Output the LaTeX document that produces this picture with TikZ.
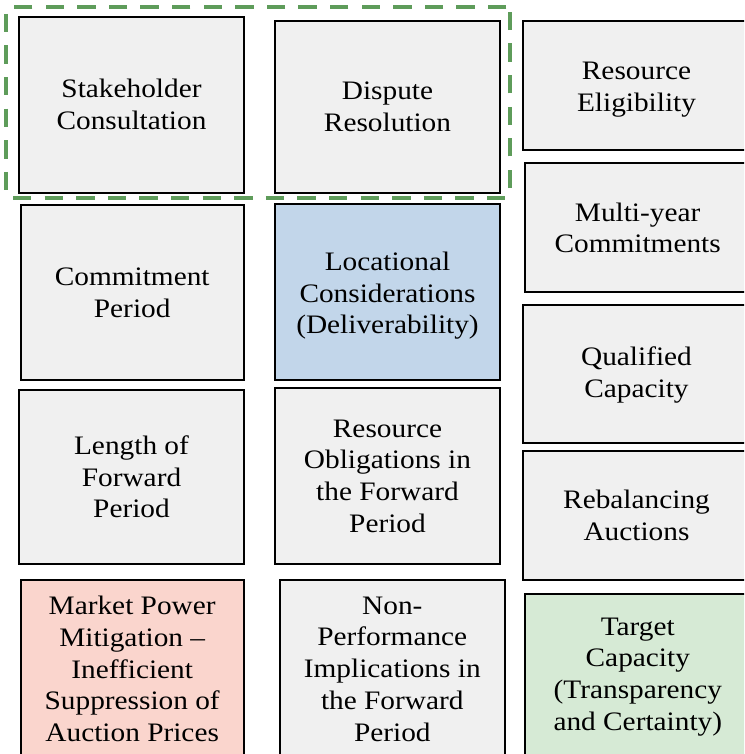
\documentclass[tikz,border=0pt]{standalone}
\usepackage{fontspec}
\setmainfont{Liberation Serif}[FakeStretch=1.1]
\usetikzlibrary{fit}
\definecolor{boxgray}{HTML}{F0F0F0}
\definecolor{boxblue}{HTML}{C2D6EA}
\definecolor{boxpink}{HTML}{FAD5CD}
\definecolor{boxgreen}{HTML}{D6EAD5}
\definecolor{dashgreen}{HTML}{5E9C5A}
\begin{document}
\begin{tikzpicture}[x=0.75pt,y=-0.75pt,
  box/.style={draw=black, line width=1.4pt, inner sep=0pt, fill=boxgray},
  txt/.style={align=center, inner sep=0pt, font=\fontsize{20}{23.8}\selectfont},
  groupbox/.style={draw=dashgreen, line width=3pt, dash pattern=on 13.7pt off 10pt,
    rounded corners=3pt, inner sep=0pt}]
\useasboundingbox (0,0) rectangle (744,754);
\clip (0,0) rectangle (744,754);
\fill[white] (0,0) rectangle (744,754);
% column 1
\node[box, fit={(19.3,16.7) (243.7,192.7)}] (stake) {};
\node[txt] (staketxt) at (stake.center) {Stakeholder\\Consultation};
\node[box, fit={(20.7,205.3) (243.7,380.3)}] (commit) {};
\node[txt] (committxt) at (commit.center) {Commitment\\Period};
\node[box, fit={(19.3,389.7) (243.7,564.3)}] (length) {};
\node[txt] (lengthtxt) at (length.center) {Length of\\Forward\\Period};
\node[box, fill=boxpink, fit={(20.7,579.7) (243.7,775)}] (market) {};
\node[txt] (markettxt) at (132.2,669) {Market Power\\Mitigation --\\Inefficient\\Suppression of\\Auction Prices};
% column 2
\node[box, fit={(275.3,21) (499.7,192.7)}] (dispute) {};
\node[txt] (disputetxt) at (dispute.center) {Dispute\\Resolution};
\node[box, fill=boxblue, fit={(275.3,203.7) (499.7,380)}] (locat) {};
\node[txt] (locattxt) at ([yshift=-3pt]locat.center) {Locational\\Considerations\\(Deliverability)};
\node[box, fit={(275.3,387.7) (499.7,564.3)}] (obl) {};
\node[txt] (obltxt) at (obl.center) {Resource\\Obligations in\\the Forward\\Period};
\node[box, fit={(280,579.7) (504.7,775)}] (nonperf) {};
\node[txt] (nonperftxt) at (392.3,669) {Non-\\Performance\\Implications in\\the Forward\\Period};
% column 3
\node[box, fit={(523,21) (750,150.3)}] (elig) {};
\node[txt] (eligtxt) at ([yshift=-3pt]elig.center) {Resource\\Eligibility};
\node[box, fit={(525.3,163.3) (750,292.3)}] (multi) {};
\node[txt] (multitxt) at (multi.center) {Multi-year\\Commitments};
\node[box, fit={(523,305.3) (750,442.7)}] (qual) {};
\node[txt] (qualtxt) at ([yshift=-1pt]qual.center) {Qualified\\Capacity};
\node[box, fit={(523,451) (750,579.7)}] (rebal) {};
\node[txt] (rebaltxt) at (rebal.center) {Rebalancing\\Auctions};
\node[box, fill=boxgreen, fit={(525.3,593.7) (750,775)}] (target) {};
\node[txt] (targettxt) at (637.8,677) {Target\\Capacity\\(Transparency\\and Certainty)};
% dashed group
\node[groupbox, fit={(6,6.7) (510.3,198.3)}] (group) {};
\end{tikzpicture}
\end{document}
